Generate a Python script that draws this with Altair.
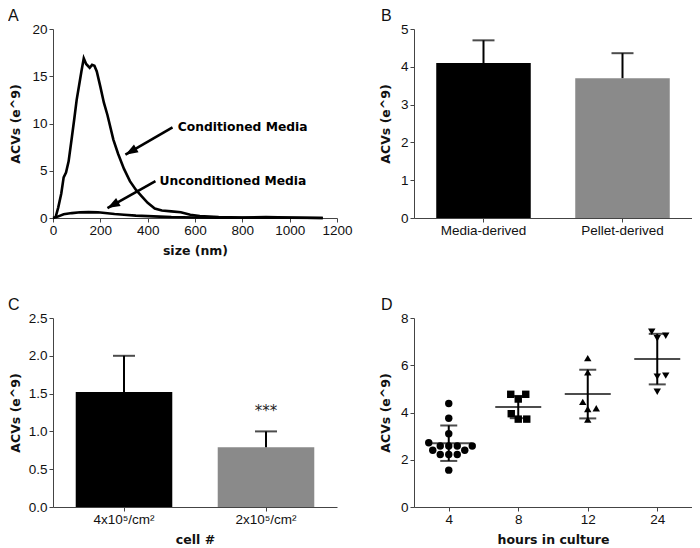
import math
import altair as alt
import pandas as pd

FONT = "Liberation Sans"
BOLD = "DejaVu Sans"

# ---------------- Panel A : size distribution ----------------
cond_size = [10, 22, 35, 45, 55, 66, 80, 90, 100, 110, 120, 130, 140, 155, 165, 175, 185,
             200, 215, 230, 255, 275, 300, 325, 350, 375, 400, 430, 460, 500, 540, 580,
             620, 700, 800, 900, 1000, 1140]
cond_acv = [0, 1.1, 2.6, 4.3, 4.8, 6.0, 8.6, 10.5, 12.5, 14.0, 15.5, 16.9, 16.3, 15.9, 16.2,
            16.1, 15.5, 13.9, 12.2, 10.9, 8.3, 6.8, 5.2, 3.9, 3.0, 2.3, 1.6, 1.0, 0.8, 0.7,
            0.6, 0.35, 0.2, 0.1, 0.05, 0.1, 0.05, 0.0]
uncond_size = [0, 20, 45, 80, 115, 150, 190, 230, 260, 300, 350, 400, 450, 500, 600, 700,
               800, 1000, 1140]
uncond_acv = [0, 0.15, 0.4, 0.52, 0.6, 0.62, 0.6, 0.5, 0.42, 0.35, 0.25, 0.2, 0.15, 0.1,
              0.06, 0.03, 0.03, 0.02, 0.0]

ann_labels = ["Conditioned Media", "Unconditioned Media"]
ann_text_x = [527, 450]
ann_text_y = [9.6, 3.9]
arrow_start_x = [505, 433]
arrow_start_y = [9.6, 3.9]
arrow_tip_x = [306, 230]
arrow_tip_y = [6.7, 1.05]

# ---------------- Panel B ----------------
b_cats = ["Media-derived", "Pellet-derived"]
b_vals = [4.1, 3.7]
b_err = [0.6, 0.66]

# ---------------- Panel C ----------------
c_cats = ["4x10\u2075/cm\u00b2", "2x10\u2075/cm\u00b2"]
c_vals = [1.52, 0.79]
c_err = [0.48, 0.21]
c_sig = ["", "***"]

bar_colors = ["#000000", "#8a8a8a"]

# ---------------- Panel D ----------------
d_groups = ["4", "8", "12", "24"]
d_g4 = [4.38, 3.76, 3.10, 2.72, 2.58, 2.58, 2.58, 2.58, 2.40, 2.40, 2.22, 2.22, 2.22, 1.56]
d_g8 = [4.77, 4.77, 4.57, 3.95, 3.72, 3.72]
d_g12 = [6.30, 5.70, 4.45, 4.18, 4.15, 3.70]
d_g24 = [7.42, 7.25, 7.14, 5.56, 5.52, 4.88]
d_mean = [2.70, 4.23, 4.78, 6.26]
d_sd = [0.75, 0.47, 1.03, 1.07]
d_shapes = ["circle", "square", "triangle-up", "triangle-down"]

# ---------------- layout constants ----------------
W1, W2 = 284, 278
H = 189
LETTER = dict(anchor="start", frame="group", offset=-2, fontSize=16,
              fontWeight="normal", font=FONT, color="#111111")
YTITLE = "ACVs (e^9)"


def yaxis(vals, extent, fmt=None):
    kw = dict(values=vals, tickCount=len(vals), minExtent=extent, maxExtent=extent,
              titlePadding=9, labelOverlap=False)
    if fmt:
        kw["format"] = fmt
    return alt.Axis(**kw)


def xaxis(**kw):
    return alt.Axis(labelOverlap=False, labelFlush=False, labelPadding=1, titlePadding=8,
                    **kw)


# ---------------- Panel A chart ----------------
lines = pd.concat([
    pd.DataFrame({"size": cond_size, "acv": cond_acv, "series": "Conditioned"}),
    pd.DataFrame({"size": uncond_size, "acv": uncond_acv, "series": "Unconditioned"}),
])
xA_scale = alt.Scale(domain=[0, 1200], nice=False)
yA_scale = alt.Scale(domain=[0, 20], nice=False)
xA_axis = xaxis(values=[0, 200, 400, 600, 800, 1000, 1200], tickCount=7, format="d")
yA_axis = yaxis([0, 5, 10, 15, 20], 22)


def XA(f):
    return alt.X(f, type="quantitative", scale=xA_scale, axis=xA_axis, title="size (nm)")


def YA(f):
    return alt.Y(f, type="quantitative", scale=yA_scale, axis=yA_axis, title=YTITLE)


px_x = W1 / 1200.0
px_y = H / 20.0
angles = []
for sx, sy, tx, ty in zip(arrow_start_x, arrow_start_y, arrow_tip_x, arrow_tip_y):
    dx = (tx - sx) * px_x
    dy = -(ty - sy) * px_y
    angles.append(math.degrees(math.atan2(dx, -dy)) % 360)

ann = pd.DataFrame({"label": ann_labels, "tx": ann_text_x, "ty": ann_text_y,
                    "sx": arrow_start_x, "sy": arrow_start_y,
                    "ex": arrow_tip_x, "ey": arrow_tip_y, "ang": angles})

lineA = alt.Chart(lines).mark_line(color="black", strokeWidth=2.6).encode(
    x=XA("size"), y=YA("acv"), detail="series:N")
arrowLine = alt.Chart(ann).mark_rule(color="black", strokeWidth=2.6).encode(
    x=XA("sx"), y=YA("sy"), x2="ex:Q", y2="ey:Q")
arrowHead = alt.Chart(ann).mark_point(
    shape="M0,0 L-0.8,2.2 L0.8,2.2 Z", filled=True, color="black", opacity=1, size=130
).encode(x=XA("ex"), y=YA("ey"), angle=alt.Angle("ang:Q", scale=None))
annText = alt.Chart(ann).mark_text(align="left", baseline="middle", font=BOLD,
                                   fontWeight="bold", fontSize=12.3, color="black").encode(
    x=XA("tx"), y=YA("ty"), text="label:N")

panelA = alt.layer(lineA, arrowLine, arrowHead, annText).properties(
    width=W1, height=H, title=alt.TitleParams("A", dx=-45, **LETTER))


# ---------------- bar panels ----------------
def bar_panel(cats, vals, errs, letter, tick_vals, ymax, width, extent, xtitle, fmt, dx,
              sig=None):
    df = pd.DataFrame({"cat": cats, "v": vals, "hi": [v + e for v, e in zip(vals, errs)],
                       "sig": sig if sig else [""] * len(cats)})
    x_scale = alt.Scale(paddingInner=0.32, paddingOuter=0.16)
    x_axis = xaxis(labelAngle=0)
    y_scale = alt.Scale(domain=[0, ymax], nice=False)
    y_axis = yaxis(tick_vals, extent, fmt)

    def X():
        return alt.X("cat:N", sort=cats, title=xtitle, scale=x_scale, axis=x_axis)

    def Y(f):
        return alt.Y(f, type="quantitative", scale=y_scale, axis=y_axis, title=YTITLE)

    bars = alt.Chart(df).mark_bar().encode(
        x=X(), y=Y("v"),
        color=alt.Color("cat:N", scale=alt.Scale(domain=cats, range=bar_colors), legend=None))
    err = alt.Chart(df).mark_rule(color="black", strokeWidth=2).encode(
        x=X(), y=Y("v"), y2="hi:Q")
    cap = alt.Chart(df).mark_tick(color="black", orient="horizontal", size=22,
                                  thickness=2).encode(x=X(), y=Y("hi"))
    layers = [bars, err, cap]
    if sig:
        layers.append(alt.Chart(df).mark_text(font=BOLD, fontSize=15, dy=-20,
                                              baseline="middle", color="#222222").encode(
            x=X(), y=Y("hi"), text="sig:N"))
    return alt.layer(*layers).properties(
        width=width, height=H, title=alt.TitleParams(letter, dx=dx, **LETTER))


panelB = bar_panel(b_cats, b_vals, b_err, "B", [0, 1, 2, 3, 4, 5], 5, W2, 13, None, "d", -33)
panelC = bar_panel(c_cats, c_vals, c_err, "C", [0, 0.5, 1.0, 1.5, 2.0, 2.5], 2.5, W1, 22,
                   "cell #", ".1f", -45, sig=c_sig)

# ---------------- Panel D ----------------
PX_PER_CAT = W2 / 4.0
PX_PER_Y = H / 8.0
DIA = 8.5


def swarm(vals):
    order = sorted(range(len(vals)), key=lambda i: vals[i])
    placed = []
    offs = [0.0] * len(vals)
    for i in order:
        y = vals[i] * PX_PER_Y
        k = 0
        while True:
            cands = [0.0] if k == 0 else [k * 0.5, -k * 0.5]
            ok = None
            for c in cands:
                if all((c - px) ** 2 + (y - py) ** 2 >= DIA ** 2 for px, py in placed):
                    ok = c
                    break
            if ok is not None:
                break
            k += 1
        placed.append((ok, y))
        offs[i] = ok
    return offs


rows = []
for gi, (g, vals) in enumerate(zip(d_groups, [d_g4, d_g8, d_g12, d_g24])):
    for v, o in zip(vals, swarm(vals)):
        rows.append({"group": g, "pos": gi + o / PX_PER_CAT, "acv": v})
dpts = pd.DataFrame(rows)
dsum = pd.DataFrame({"group": d_groups, "idx": list(range(4)), "mean": d_mean,
                     "lo": [m - s for m, s in zip(d_mean, d_sd)],
                     "hi": [m + s for m, s in zip(d_mean, d_sd)]})

xD_scale = alt.Scale(domain=[-0.5, 3.5], nice=False, zero=False)
xD_axis = xaxis(values=[0, 1, 2, 3], tickCount=4,
                labelExpr="['4','8','12','24'][datum.value]")
yD_scale = alt.Scale(domain=[0, 8], nice=False)
yD_axis = yaxis([0, 2, 4, 6, 8], 13)


def XD(f):
    return alt.X(f, type="quantitative", scale=xD_scale, axis=xD_axis,
                 title="hours in culture")


def YD(f):
    return alt.Y(f, type="quantitative", scale=yD_scale, axis=yD_axis, title=YTITLE)


pts = alt.Chart(dpts).mark_point(filled=True, opacity=1, color="black", size=55).encode(
    x=XD("pos"), y=YD("acv"),
    shape=alt.Shape("group:N", scale=alt.Scale(domain=d_groups, range=d_shapes), legend=None))
meanTick = alt.Chart(dsum).mark_tick(color="black", orient="horizontal", size=46,
                                     thickness=2).encode(x=XD("idx"), y=YD("mean"))
sdRule = alt.Chart(dsum).mark_rule(color="black", strokeWidth=2).encode(
    x=XD("idx"), y=YD("lo"), y2="hi:Q")
capLo = alt.Chart(dsum).mark_tick(color="black", orient="horizontal", size=17,
                                  thickness=2).encode(x=XD("idx"), y=YD("lo"))
capHi = alt.Chart(dsum).mark_tick(color="black", orient="horizontal", size=17,
                                  thickness=2).encode(x=XD("idx"), y=YD("hi"))
panelD = alt.layer(pts, meanTick, sdRule, capLo, capHi).properties(
    width=W2, height=H, title=alt.TitleParams("D", dx=-33, **LETTER))

chart = alt.concat(panelA, panelB, panelC, panelD, columns=2,
                   spacing={"row": 100, "column": 77}, bounds="flush").properties(
    padding=0
).configure_view(stroke=None).configure_axis(
    grid=False, labelFont=FONT, titleFont=BOLD, labelFontSize=13.5, titleFontSize=12.5,
    titleFontWeight="bold", labelColor="#111111", titleColor="#111111",
    domainColor="#444444", tickColor="#444444", tickSize=4, labelPadding=2
)

chart.save("out.html", embed_options={"renderer": "svg", "actions": False})
